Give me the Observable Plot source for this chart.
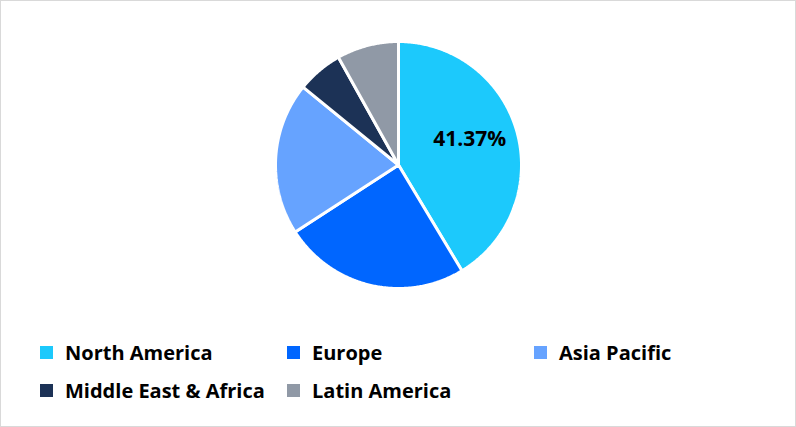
<!DOCTYPE html>
<html>
<head>
<meta charset="utf-8">
<script src="https://cdn.jsdelivr.net/npm/d3@7"></script>
<script src="https://cdn.jsdelivr.net/npm/@observablehq/plot@0.6"></script>
<style>
  html, body { margin: 0; padding: 0; background: #fff; }
  #wrap {
    width: 796px; height: 427px; box-sizing: border-box;
    border: 1px solid #d9d9d9; position: relative; overflow: hidden;
    font-family: "Open Sans", "Noto Sans", sans-serif;
  }
  #chart svg { display: block; }
  #legend { margin-top: 2px; padding-left: 39px; }
  .row { display: flex; height: 38px; align-items: center; }
  .item { display: flex; align-items: center; width: 247px; white-space: nowrap; }
  .sw { width: 13px; height: 13px; margin-right: 12px; flex: none; }
  .lab { font-size: 20px; font-weight: 700; color: #000; letter-spacing: 0px; }
</style>
</head>
<body>
<div id="wrap">
  <div id="chart"></div>
  <div id="legend"></div>
</div>
<script>
const regions = ["North America", "Europe", "Asia Pacific", "Middle East & Africa", "Latin America"];
const shares = [41.37, 24.5, 20.0, 6.0, 8.13];
const colors = ["#1cc9fc", "#0066ff", "#66a3ff", "#1c3256", "#9099a6"];
const labeled = ["North America"];
const legendRows = [["North America", "Europe", "Asia Pacific"], ["Middle East & Africa", "Latin America"]];

const table = regions.map((name, i) => ({name, value: shares[i]}));
const arcs = d3.pie().sort(null).value(d => d.value).startAngle(0).endAngle(2 * Math.PI)(table);

// outline vertices of each slice (centre, arc, centre) in unit-circle coordinates
const outline = [];
for (const a of arcs) {
  const name = a.data.name;
  outline.push({name, x: 0, y: 0});
  const n = Math.max(2, Math.ceil((a.endAngle - a.startAngle) / (Math.PI / 360)));
  for (let k = 0; k <= n; k++) {
    const t = a.startAngle + (a.endAngle - a.startAngle) * k / n;
    outline.push({name, x: Math.sin(t), y: Math.cos(t)});
  }
  outline.push({name, x: 0, y: 0});
}

const labels = arcs.filter(a => labeled.includes(a.data.name)).map(a => {
  const m = (a.startAngle + a.endAngle) / 2;
  return {x: 0.6 * Math.sin(m), y: 0.6 * Math.cos(m), text: a.data.value.toFixed(2) + "%"};
});

const plot = Plot.plot({
  width: 794,
  height: 330,
  marginLeft: 274,
  marginRight: 274,
  marginTop: 40,
  marginBottom: 43,
  x: {domain: [-1, 1], axis: null},
  y: {domain: [-1, 1], axis: null},
  color: {domain: regions, range: colors},
  style: {fontFamily: "'Open Sans', 'Noto Sans', sans-serif", background: "white"},
  marks: [
    Plot.line(outline, {x: "x", y: "y", z: "name", fill: "name", stroke: "white", strokeWidth: 3, strokeLinejoin: "miter", curve: "linear"}),
    Plot.text(labels, {x: "x", y: "y", text: "text", fontSize: 21, fontWeight: 700, fill: "#000", dy: -6})
  ]
});
document.getElementById("chart").appendChild(plot);

const legend = document.getElementById("legend");
for (const row of legendRows) {
  const r = document.createElement("div");
  r.className = "row";
  for (const name of row) {
    const it = document.createElement("div");
    it.className = "item";
    const sw = document.createElement("span");
    sw.className = "sw";
    sw.style.background = colors[regions.indexOf(name)];
    const lab = document.createElement("span");
    lab.className = "lab";
    lab.textContent = name;
    it.appendChild(sw); it.appendChild(lab);
    r.appendChild(it);
  }
  legend.appendChild(r);
}
</script>
</body>
</html>
